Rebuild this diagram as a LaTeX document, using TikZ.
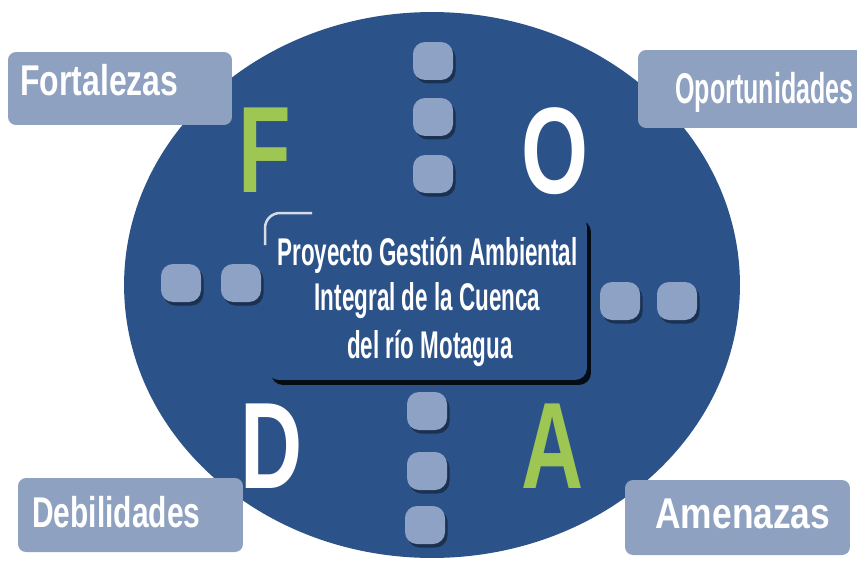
\documentclass[tikz,border=0pt]{standalone}
\usepackage{fontspec}
\usepackage{graphicx}
\usepackage{tikz}
\usetikzlibrary{shadows}
\usepackage{xcolor}
\setmainfont{Liberation Sans}
\newfontfamily\condfont[FakeStretch=0.58]{Liberation Sans}
\newfontfamily\letrafont[FakeStretch=0.7]{Liberation Sans}
\definecolor{fondo}{RGB}{44,82,138}
\definecolor{etiq}{RGB}{143,161,192}
\definecolor{puntocol}{RGB}{142,162,197}
\definecolor{verde}{RGB}{158,198,82}
\newcommand{\ancho}[2]{\resizebox{#1}{\height}{#2}}
\tikzset{
	etiqueta/.style={fill=etiq, rounded corners=0.16cm, inner sep=0},
	etiqtexto/.style={anchor=base west, inner sep=0, text=white, font=\fontsize{24.5}{26}\selectfont\bfseries},
	punto/.style={fill=puntocol, rounded corners=0.24cm, minimum width=0.8cm, minimum height=0.76cm, inner sep=0,
		drop shadow={shadow xshift=0.05cm, shadow yshift=-0.07cm, opacity=0.4, fill=black}},
	linea/.style={anchor=base, inner sep=0, text=white, font=\fontsize{22}{24}\condfont\bfseries},
	letra/.style={anchor=base, inner sep=0, font=\fontsize{70}{70}\letrafont\bfseries}
}
\begin{document}
\begin{tikzpicture}[x=0.02cm, y=-0.02cm]
				\fill[white] (0,0) rectangle (857,568);
				\useasboundingbox (0,0) rectangle (857,568);
				\fill[fondo] (432,285) ellipse [x radius=6.16cm, y radius=5.46cm];
				\node[etiqueta, minimum width=4.48cm, minimum height=1.46cm] (fortalezas) at (120,88.5) {};
				\node[etiqueta, minimum width=4.64cm, minimum height=1.56cm] (oportunidades) at (754,89) {};
				\node[etiqueta, minimum width=4.5cm, minimum height=1.48cm] (debilidades) at (130.5,515) {};
				\node[etiqueta, minimum width=4.5cm, minimum height=1.5cm] (amenazas) at (737.5,517.5) {};
				\node[etiqtexto] (tfort) at (20,95) {\ancho{3.16cm}{Fortalezas}};
				\node[etiqtexto] (topor) at (675,103) {\ancho{3.56cm}{Oportunidades}};
				\node[etiqtexto] (tdebi) at (32,527) {\ancho{3.36cm}{Debilidades}};
				\node[etiqtexto] (tamen) at (655,528) {\ancho{3.5cm}{Amenazas}};
				\foreach \x/\y [count=\i] in {433/61, 433/117, 433/174, 427/411, 427/471, 425/525, 181/283, 241/283, 620/301, 677/301}
					\node[punto] (p\i) at (\x,\y) {};
				\node[fill=fondo, rounded corners=0.24cm, minimum width=6.4cm, minimum height=3.3cm, inner sep=0,
					drop shadow={shadow xshift=0.08cm, shadow yshift=-0.1cm, opacity=0.85, fill=black}] (proyecto) at (427,297.5) {};
				\draw[white!80!fondo, line width=0.05cm] (265,245) -- (265,228) arc[start angle=180, end angle=90, radius=0.3cm] -- (312,213);
				\node[linea] (linea1) at (427.5,265) {Proyecto Gestión Ambiental};
				\node[linea] (linea2) at (427.5,310) {Integral de la Cuenca};
				\node[linea] (linea3) at (430,358) {del río Motagua};
				\node[letra, text=verde] (F) at (265,192) {F};
				\node[letra, text=white] (O) at (555,193) {O};
				\node[letra, text=white] (D) at (272,488) {D};
				\node[letra, text=verde] (A) at (553,488) {A};
			\end{tikzpicture}
\end{document}
